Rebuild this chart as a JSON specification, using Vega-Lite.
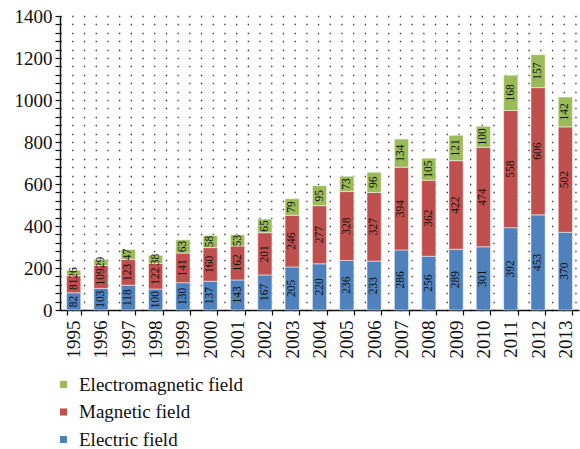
{
  "$schema": "https://vega.github.io/schema/vega-lite/v6.json",
  "width": 519,
  "height": 294,
  "autosize": {"type": "none"},
  "padding": {"left": 60, "top": 16, "right": 1, "bottom": 139},
  "background": "white",
  "config": {
    "view": {"stroke": null},
    "font": "Liberation Serif"
  },
  "data": {
    "values": [
      {"year": "1995", "type": "Electric field", "ord": 1, "value": 82},
      {"year": "1995", "type": "Magnetic field", "ord": 2, "value": 81},
      {"year": "1995", "type": "Electromagnetic field", "ord": 3, "value": 26},
      {"year": "1996", "type": "Electric field", "ord": 1, "value": 103},
      {"year": "1996", "type": "Magnetic field", "ord": 2, "value": 109},
      {"year": "1996", "type": "Electromagnetic field", "ord": 3, "value": 29},
      {"year": "1997", "type": "Electric field", "ord": 1, "value": 118},
      {"year": "1997", "type": "Magnetic field", "ord": 2, "value": 123},
      {"year": "1997", "type": "Electromagnetic field", "ord": 3, "value": 47},
      {"year": "1998", "type": "Electric field", "ord": 1, "value": 100},
      {"year": "1998", "type": "Magnetic field", "ord": 2, "value": 122},
      {"year": "1998", "type": "Electromagnetic field", "ord": 3, "value": 38},
      {"year": "1999", "type": "Electric field", "ord": 1, "value": 130},
      {"year": "1999", "type": "Magnetic field", "ord": 2, "value": 141},
      {"year": "1999", "type": "Electromagnetic field", "ord": 3, "value": 63},
      {"year": "2000", "type": "Electric field", "ord": 1, "value": 137},
      {"year": "2000", "type": "Magnetic field", "ord": 2, "value": 160},
      {"year": "2000", "type": "Electromagnetic field", "ord": 3, "value": 58},
      {"year": "2001", "type": "Electric field", "ord": 1, "value": 143},
      {"year": "2001", "type": "Magnetic field", "ord": 2, "value": 162},
      {"year": "2001", "type": "Electromagnetic field", "ord": 3, "value": 53},
      {"year": "2002", "type": "Electric field", "ord": 1, "value": 167},
      {"year": "2002", "type": "Magnetic field", "ord": 2, "value": 201},
      {"year": "2002", "type": "Electromagnetic field", "ord": 3, "value": 65},
      {"year": "2003", "type": "Electric field", "ord": 1, "value": 205},
      {"year": "2003", "type": "Magnetic field", "ord": 2, "value": 246},
      {"year": "2003", "type": "Electromagnetic field", "ord": 3, "value": 79},
      {"year": "2004", "type": "Electric field", "ord": 1, "value": 220},
      {"year": "2004", "type": "Magnetic field", "ord": 2, "value": 277},
      {"year": "2004", "type": "Electromagnetic field", "ord": 3, "value": 95},
      {"year": "2005", "type": "Electric field", "ord": 1, "value": 236},
      {"year": "2005", "type": "Magnetic field", "ord": 2, "value": 328},
      {"year": "2005", "type": "Electromagnetic field", "ord": 3, "value": 73},
      {"year": "2006", "type": "Electric field", "ord": 1, "value": 233},
      {"year": "2006", "type": "Magnetic field", "ord": 2, "value": 327},
      {"year": "2006", "type": "Electromagnetic field", "ord": 3, "value": 96},
      {"year": "2007", "type": "Electric field", "ord": 1, "value": 286},
      {"year": "2007", "type": "Magnetic field", "ord": 2, "value": 394},
      {"year": "2007", "type": "Electromagnetic field", "ord": 3, "value": 134},
      {"year": "2008", "type": "Electric field", "ord": 1, "value": 256},
      {"year": "2008", "type": "Magnetic field", "ord": 2, "value": 362},
      {"year": "2008", "type": "Electromagnetic field", "ord": 3, "value": 105},
      {"year": "2009", "type": "Electric field", "ord": 1, "value": 289},
      {"year": "2009", "type": "Magnetic field", "ord": 2, "value": 422},
      {"year": "2009", "type": "Electromagnetic field", "ord": 3, "value": 121},
      {"year": "2010", "type": "Electric field", "ord": 1, "value": 301},
      {"year": "2010", "type": "Magnetic field", "ord": 2, "value": 474},
      {"year": "2010", "type": "Electromagnetic field", "ord": 3, "value": 100},
      {"year": "2011", "type": "Electric field", "ord": 1, "value": 392},
      {"year": "2011", "type": "Magnetic field", "ord": 2, "value": 558},
      {"year": "2011", "type": "Electromagnetic field", "ord": 3, "value": 168},
      {"year": "2012", "type": "Electric field", "ord": 1, "value": 453},
      {"year": "2012", "type": "Magnetic field", "ord": 2, "value": 606},
      {"year": "2012", "type": "Electromagnetic field", "ord": 3, "value": 157},
      {"year": "2013", "type": "Electric field", "ord": 1, "value": 370},
      {"year": "2013", "type": "Magnetic field", "ord": 2, "value": 502},
      {"year": "2013", "type": "Electromagnetic field", "ord": 3, "value": 142}
    ]
  },
  "transform": [
    {"stack": "value", "groupby": ["year"], "sort": [{"field": "ord", "order": "ascending"}], "as": ["y0", "y1"]},
    {"calculate": "(datum.y0 + datum.y1) / 2", "as": "ymid"}
  ],
  "encoding": {
    "x": {
      "field": "year",
      "type": "ordinal",
      "title": null,
      "scale": {"paddingInner": 0.48, "paddingOuter": 0.24},
      "axis": {
        "tickBand": "extent",
        "labelAngle": 270,
        "labelAlign": "right",
        "labelBaseline": "middle",
        "labelFont": "Liberation Serif",
        "labelFontSize": 19,
        "labelColor": "#111",
        "labelPadding": 5,
        "tickSize": 5,
        "tickColor": "#111",
        "tickWidth": 1.2,
        "domainColor": "#111",
        "domainWidth": 1.5,
        "grid": false
      }
    },
    "y": {
      "field": "y1",
      "type": "quantitative",
      "title": null,
      "scale": {"domain": [0, 1400], "nice": false},
      "axis": {
        "values": [0, 40, 80, 120, 160, 200, 240, 280, 320, 360, 400, 440, 480, 520, 560, 600, 640, 680, 720, 760, 800, 840, 880, 920, 960, 1000, 1040, 1080, 1120, 1160, 1200, 1240, 1280, 1320, 1360, 1400],
        "format": "d",
        "labelExpr": "datum.value % 200 == 0 ? datum.label : ''",
        "labelOverlap": false,
        "labelFont": "Liberation Serif",
        "labelFontSize": 19,
        "labelColor": "#111",
        "labelPadding": 3,
        "tickSize": 5,
        "tickColor": "#111",
        "tickWidth": 1.2,
        "domainColor": "#111",
        "domainWidth": 1.5,
        "grid": true,
        "gridColor": "#333",
        "gridWidth": 1.3,
        "gridDash": [1.3, 10.4]
      }
    }
  },
  "layer": [
    {
      "mark": {"type": "bar", "stroke": "white", "strokeWidth": 0.5},
      "encoding": {
        "y2": {"field": "y0"},
        "color": {
          "field": "type",
          "type": "nominal",
          "scale": {
            "domain": ["Electromagnetic field", "Magnetic field", "Electric field"],
            "range": ["#9BBB59", "#C0504D", "#4F81BD"]
          },
          "legend": {
            "title": null,
            "orient": "none",
            "legendX": -6,
            "legendY": 359,
            "direction": "vertical",
            "padding": 0,
            "symbolType": "square",
            "symbolSize": 50,
            "symbolStrokeWidth": 0,
            "labelFont": "Liberation Serif",
            "labelFontSize": 19,
            "labelColor": "#111",
            "labelOffset": 6,
            "rowPadding": 7.5,
            "labelLimit": 400
          }
        }
      }
    },
    {
      "mark": {"type": "text", "angle": 270, "align": "center", "baseline": "middle", "font": "Liberation Serif", "fontSize": 11.5, "color": "#111"},
      "encoding": {
        "y": {"field": "ymid", "type": "quantitative"},
        "text": {"field": "value", "type": "quantitative"}
      }
    }
  ]
}
